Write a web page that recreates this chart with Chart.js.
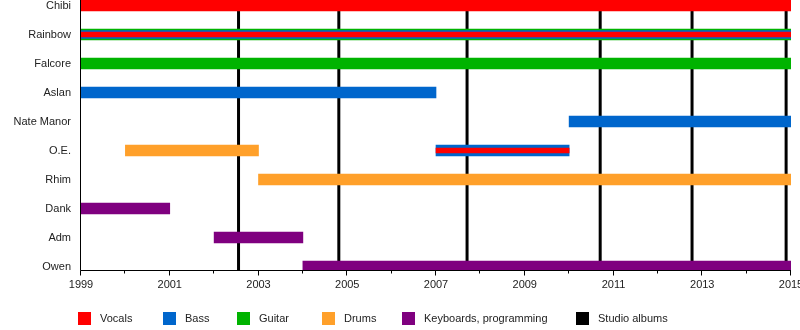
<!DOCTYPE html>
<html>
<head>
<meta charset="utf-8">
<script src="https://cdn.jsdelivr.net/npm/chart.js@4"></script>
<style>
  html, body { margin: 0; padding: 0; background: #fff; }
  #chart { display: block; }
</style>
</head>
<body>
<canvas id="chart" width="800" height="330"></canvas>
<script>
// Band members, top to bottom
const members = ['Chibi', 'Rainbow', 'Falcore', 'Aslan', 'Nate Manor', 'O.E.', 'Rhim', 'Dank', 'Adm', 'Owen'];
const roles = ['Vocals', 'Bass', 'Guitar', 'Drums', 'Keyboards, programming'];
const roleColors = ['#ff0000', '#0066cc', '#00b300', '#ffa02a', '#7f007f'];

// [member, role, from, to]
const mainSpans = [
    ['Chibi', 'Vocals', 1999, 2015],
    ['Rainbow', 'Guitar', 1999, 2015],
    ['Falcore', 'Guitar', 1999, 2015],
    ['Aslan', 'Bass', 1999, 2007],
    ['Nate Manor', 'Bass', 2010, 2015],
    ['O.E.', 'Drums', 2000, 2003],
    ['O.E.', 'Bass', 2007, 2010],
    ['Rhim', 'Drums', 2003, 2015],
    ['Dank', 'Keyboards, programming', 1999, 2001],
    ['Adm', 'Keyboards, programming', 2002, 2004],
    ['Owen', 'Keyboards, programming', 2004, 2015],
];
// secondary roles, drawn thinner on top of the main bar
const secondSpans = [
    ['Rainbow', 'Bass', 1999, 2015],
];
const thirdSpans = [
    ['Rainbow', 'Vocals', 1999, 2015],
    ['O.E.', 'Vocals', 2007, 2010],
];

// studio album releases
const albumYears = [2002.55, 2004.81, 2007.7, 2010.7, 2012.77, 2014.89];

const firstYear = 1999;
const lastYear = 2015;

// layout bits (not data)
const FONT = "11px 'Liberation Sans', Arial, sans-serif";
const TEXT_COLOR = '#222';
const legendX = [78, 163, 237, 322, 402, 576];

function buildDatasets(spans, thickness, order) {
    const sets = [];
    roles.forEach((role, i) => {
        const rows = spans.filter(s => s[1] === role);
        if (!rows.length) return;
        sets.push({
            label: role,
            data: rows.map(s => ({ x: [s[2], s[3]], y: members.indexOf(s[0]) })),
            backgroundColor: roleColors[i],
            borderWidth: 0,
            barThickness: thickness,
            grouped: false,
            order: order,
        });
    });
    return sets;
}

const datasets = [
    ...buildDatasets(mainSpans, 11, 3),
    ...buildDatasets(secondSpans, 8, 2),
    ...buildDatasets(thirdSpans, 5, 1),
];

const timelinePlugin = {
    id: 'timeline',
    beforeDatasetsDraw(chart) {
        const { ctx, chartArea, scales } = chart;
        ctx.save();
        ctx.strokeStyle = '#000';
        ctx.lineWidth = 3;
        albumYears.forEach(yr => {
            const px = scales.x.getPixelForValue(yr);
            ctx.beginPath();
            ctx.moveTo(px, chartArea.top);
            ctx.lineTo(px, chartArea.bottom);
            ctx.stroke();
        });
        ctx.restore();
    },
    afterDraw(chart) {
        const { ctx, chartArea, scales } = chart;
        ctx.save();
        ctx.strokeStyle = '#000';
        ctx.lineWidth = 1;
        const left = Math.round(chartArea.left) - 0.5;
        const bottom = Math.round(chartArea.bottom) - 0.5;
        // axis lines
        ctx.beginPath();
        ctx.moveTo(left, chartArea.top);
        ctx.lineTo(left, bottom);
        ctx.lineTo(Math.round(chartArea.right), bottom);
        ctx.stroke();
        // year ticks: long every 2 years, short in between
        for (let yr = firstYear; yr <= lastYear; yr++) {
            const px = Math.round(scales.x.getPixelForValue(yr)) - 0.5;
            const len = (yr - firstYear) % 2 === 0 ? 5 : 3;
            ctx.beginPath();
            ctx.moveTo(px, bottom);
            ctx.lineTo(px, bottom + len);
            ctx.stroke();
        }

        // legend
        const items = roles.concat(['Studio albums']);
        const colors = roleColors.concat(['#000']);
        ctx.font = FONT;
        ctx.textBaseline = 'middle';
        ctx.textAlign = 'left';
        items.forEach((name, i) => {
            ctx.fillStyle = colors[i];
            ctx.fillRect(legendX[i], 312, 13, 13);
            ctx.fillStyle = TEXT_COLOR;
            ctx.fillText(name, legendX[i] + 22, 319);
        });
        ctx.restore();
    }
};

new Chart(document.getElementById('chart'), {
    type: 'bar',
    data: { datasets },
    options: {
        indexAxis: 'y',
        responsive: false,
        animation: false,
        devicePixelRatio: 1,
        layout: { padding: { top: 0, right: 9, bottom: 0, left: 0 } },
        plugins: {
            legend: { display: false },
            tooltip: { enabled: false },
        },
        scales: {
            x: {
                type: 'linear',
                min: firstYear,
                max: lastYear,
                grid: { display: false, drawTicks: false, tickLength: 0 },
                border: { display: false },
                ticks: {
                    stepSize: 1,
                    autoSkip: false,
                    maxRotation: 0,
                    padding: 7,
                    color: TEXT_COLOR,
                    font: { family: "'Liberation Sans', Arial, sans-serif", size: 11 },
                    callback: v => ((v - firstYear) % 2 === 0 ? String(v) : ''),
                },
                afterFit(scale) {
                    scale.height = 59;
                    scale.paddingLeft = 0;
                    scale.paddingRight = 0;
                },
            },
            y: {
                type: 'linear',
                reverse: true,
                offset: false,
                min: -0.19,
                max: 9.155,
                grid: { display: false, drawTicks: false, tickLength: 0 },
                border: { display: false },
                afterBuildTicks(scale) {
                    scale.ticks = members.map((_, i) => ({ value: i }));
                },
                ticks: {
                    padding: 10,
                    color: TEXT_COLOR,
                    font: { family: "'Liberation Sans', Arial, sans-serif", size: 11 },
                    callback: v => members[v],
                },
                afterFit(scale) {
                    scale.width = 81;
                    scale.paddingTop = 0;
                    scale.paddingBottom = 0;
                },
            },
        },
    },
    plugins: [timelinePlugin],
});
</script>
</body>
</html>
